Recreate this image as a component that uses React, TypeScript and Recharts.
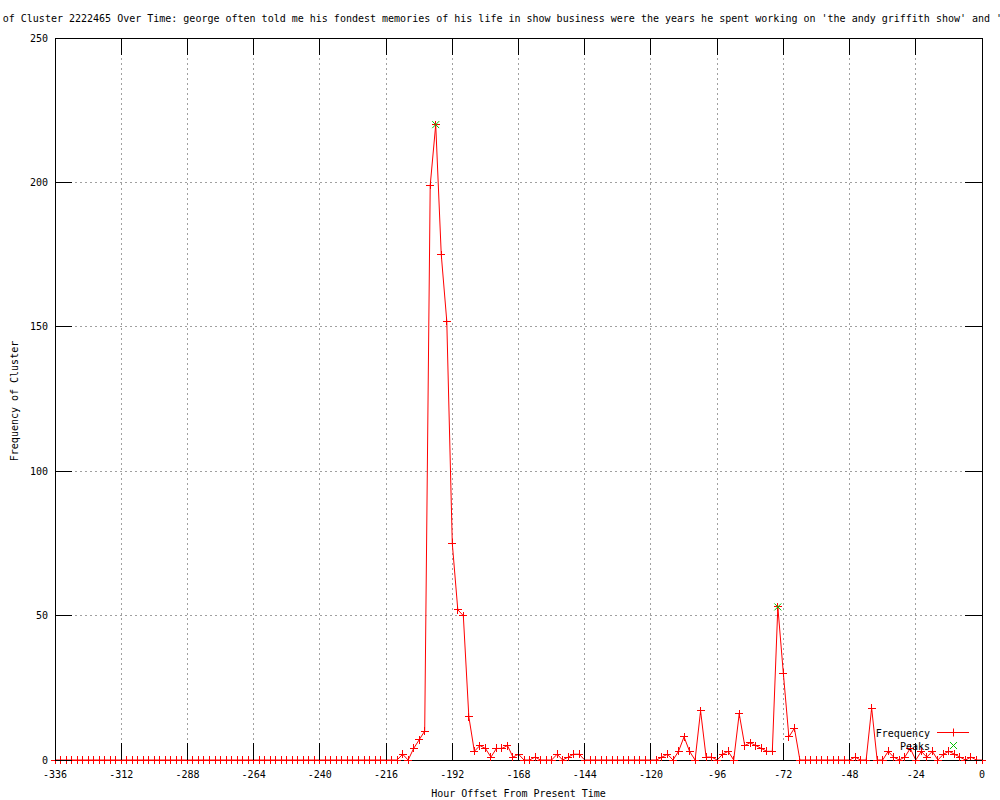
import { ComposedChart, Line, XAxis, YAxis, CartesianGrid, Legend } from "recharts";

// hours before "now", one sample every 2 hours
const hours = [
  -336, -334, -332, -330, -328, -326, -324, -322, -320, -318, -316, -314,
  -312, -310, -308, -306, -304, -302, -300, -298, -296, -294, -292, -290,
  -288, -286, -284, -282, -280, -278, -276, -274, -272, -270, -268, -266,
  -264, -262, -260, -258, -256, -254, -252, -250, -248, -246, -244, -242,
  -240, -238, -236, -234, -232, -230, -228, -226, -224, -222, -220, -218,
  -216, -214, -212, -210, -208, -206, -204, -202, -200, -198, -196, -194,
  -192, -190, -188, -186, -184, -182, -180, -178, -176, -174, -172, -170,
  -168, -166, -164, -162, -160, -158, -156, -154, -152, -150, -148, -146,
  -144, -142, -140, -138, -136, -134, -132, -130, -128, -126, -124, -122,
  -120, -118, -116, -114, -112, -110, -108, -106, -104, -102, -100, -98,
  -96, -94, -92, -90, -88, -86, -84, -82, -80, -78, -76, -74,
  -72, -70, -68, -66, -64, -62, -60, -58, -56, -54, -52, -50,
  -48, -46, -44, -42, -40, -38, -36, -34, -32, -30, -28, -26,
  -24, -22, -20, -18, -16, -14, -12, -10, -8, -6, -4, -2,
  0,
];

const frequency = [
  0, 0, 0, 0, 0, 0, 0, 0, 0, 0, 0, 0,
  0, 0, 0, 0, 0, 0, 0, 0, 0, 0, 0, 0,
  0, 0, 0, 0, 0, 0, 0, 0, 0, 0, 0, 0,
  0, 0, 0, 0, 0, 0, 0, 0, 0, 0, 0, 0,
  0, 0, 0, 0, 0, 0, 0, 0, 0, 0, 0, 0,
  0, 0, 0, 2, 0, 4, 7, 10, 199, 220, 175, 152,
  75, 52, 50, 15, 3, 5, 4, 1, 4, 4, 5, 1,
  2, 0, 0, 1, 0, 0, 0, 2, 0, 1, 2, 2,
  0, 0, 0, 0, 0, 0, 0, 0, 0, 0, 0, 0,
  0, 0, 1, 2, 0, 3, 8, 3, 0, 17, 1, 1,
  0, 2, 3, 0, 16, 5, 6, 5, 4, 3, 3, 53,
  30, 8, 11, 0, 0, 0, 0, 0, 0, 0, 0, 0,
  0, 1, 0, 0, 18, 0, 0, 3, 1, 0, 1, 4,
  0, 3, 1, 3, 0, 2, 3, 2, 1, 0, 1, 0,
  0,
];

const peakHours = [-198, -74];
const peakValues = [220, 53];

const xTicks = [-336, -312, -288, -264, -240, -216, -192, -168, -144, -120, -96, -72, -48, -24, 0];
const yTicks = [0, 50, 100, 150, 200, 250];

const title =
  "Frequency of Cluster 2222465 Over Time: george often told me his fondest memories of his life in show business were the years he spent working on 'the andy griffith show' and 'mayberry r.f.d.'";

const rows = hours.map((h, i) => {
  const p = peakHours.indexOf(h);
  return { hour: h, freq: frequency[i], peak: p >= 0 ? peakValues[p] : null };
});

const FONT = '"DejaVu Sans Mono", monospace';
const TIC = 17;
const RED = "#ff0000";
const GREEN = "#00c000";

const BottomTick = ({ x, y, payload }: any) => (
  <g>
    <line x1={x} y1={y} x2={x} y2={y - TIC} stroke="#000" shapeRendering="crispEdges" />
    <text x={x} y={y + 17.5} textAnchor="middle" fontFamily={FONT} fontSize={10} fill="#000">
      {payload.value}
    </text>
  </g>
);

const TopTick = ({ x, y }: any) => (
  <line x1={x} y1={y} x2={x} y2={y + TIC} stroke="#000" shapeRendering="crispEdges" />
);

const LeftTick = ({ x, y, payload }: any) => (
  <g>
    <line x1={x} y1={y} x2={x + TIC} y2={y} stroke="#000" shapeRendering="crispEdges" />
    <text x={x - 7} y={y + 3.6} textAnchor="end" fontFamily={FONT} fontSize={10} fill="#000">
      {payload.value}
    </text>
  </g>
);

const RightTick = ({ x, y }: any) => (
  <line x1={x} y1={y} x2={x - TIC} y2={y} stroke="#000" shapeRendering="crispEdges" />
);

const PlusDot = (props: any) => {
  const { cx, cy, index } = props;
  if (cx == null || cy == null) return <g key={index} />;
  return (
    <path
      key={index}
      d={`M${cx - 4},${cy}H${cx + 4}M${cx},${cy - 4}V${cy + 4}`}
      stroke={RED}
      fill="none"
      shapeRendering="crispEdges"
    />
  );
};

const CrossDot = (props: any) => {
  const { cx, cy, index, payload } = props;
  if (cx == null || cy == null || payload.peak == null) return <g key={index} />;
  return (
    <path
      key={index}
      d={`M${cx - 3.5},${cy - 3.5}L${cx + 3.5},${cy + 3.5}M${cx - 3.5},${cy + 3.5}L${cx + 3.5},${cy - 3.5}`}
      stroke={GREEN}
      fill="none"
    />
  );
};

const LegendBox = () => (
  <svg width={120} height={30} style={{ overflow: "visible" }}>
    <text x={70} y={12.6} textAnchor="end" fontFamily={FONT} fontSize={10} fill="#000">Frequency</text>
    <line x1={77} y1={8.5} x2={109} y2={8.5} stroke={RED} />
    <path d="M93.5,4.5V12.5" stroke={RED} />
    <text x={70} y={25.6} textAnchor="end" fontFamily={FONT} fontSize={10} fill="#000">Peaks</text>
    <path d="M90,18L97,25M90,25L97,18" stroke={GREEN} />
  </svg>
);

export default function App() {
  return (
    <div style={{ position: "absolute", left: 0, top: 0, width: 1000, height: 800, background: "#fff" }}>
      <ComposedChart width={1000} height={800} data={rows} margin={{ top: 0, right: 0, bottom: 0, left: 0 }}>
        <CartesianGrid
          stroke="#a0a0a0"
          strokeDasharray="2 3"
          shapeRendering="crispEdges"
          verticalValues={xTicks}
          horizontalValues={yTicks}
        />
        <Line
          dataKey="freq"
          type="linear"
          stroke={RED}
          strokeWidth={1}
          dot={PlusDot}
          activeDot={false}
          isAnimationActive={false}
        />
        <Line
          dataKey="peak"
          xAxisId="top"
          yAxisId="right"
          stroke="none"
          dot={CrossDot}
          activeDot={false}
          isAnimationActive={false}
        />
        <XAxis
          dataKey="hour"
          type="number"
          domain={[-336, 0]}
          ticks={xTicks}
          interval={0}
          height={40}
          tickSize={0}
          tickMargin={0}
          tickLine={false}
          axisLine={{ stroke: "#000", shapeRendering: "crispEdges" }}
          tick={BottomTick}
        />
        <XAxis
          xAxisId="top"
          orientation="top"
          dataKey="hour"
          type="number"
          domain={[-336, 0]}
          ticks={xTicks}
          interval={0}
          height={38}
          tickSize={0}
          tickMargin={0}
          tickLine={false}
          axisLine={{ stroke: "#000", shapeRendering: "crispEdges" }}
          tick={TopTick}
        />
        <YAxis
          type="number"
          domain={[0, 250]}
          ticks={yTicks}
          interval={0}
          width={55}
          tickSize={0}
          tickMargin={0}
          tickLine={false}
          axisLine={{ stroke: "#000", shapeRendering: "crispEdges" }}
          tick={LeftTick}
        />
        <YAxis
          yAxisId="right"
          orientation="right"
          type="number"
          domain={[0, 250]}
          ticks={yTicks}
          interval={0}
          width={18}
          tickSize={0}
          tickMargin={0}
          tickLine={false}
          axisLine={{ stroke: "#000", shapeRendering: "crispEdges" }}
          tick={RightTick}
        />
        <Legend
          layout="vertical"
          align="center"
          verticalAlign="middle"
          wrapperStyle={{ left: 860, top: 724, width: 120, height: 30 }}
          content={() => <LegendBox />}
        />
      </ComposedChart>
      <svg width={1000} height={800} style={{ position: "absolute", left: 0, top: 0, pointerEvents: "none" }}>
        <text x={520.5} y={22} textAnchor="middle" fontFamily={FONT} fontSize={10} fill="#000">
          {title}
        </text>
        <text x={518.5} y={797} textAnchor="middle" fontFamily={FONT} fontSize={10} fill="#000">
          Hour Offset From Present Time
        </text>
        <text
          transform="translate(17.5, 401) rotate(-90)"
          textAnchor="middle"
          fontFamily={FONT}
          fontSize={10}
          fill="#000"
        >
          Frequency of Cluster
        </text>
      </svg>
    </div>
  );
}
